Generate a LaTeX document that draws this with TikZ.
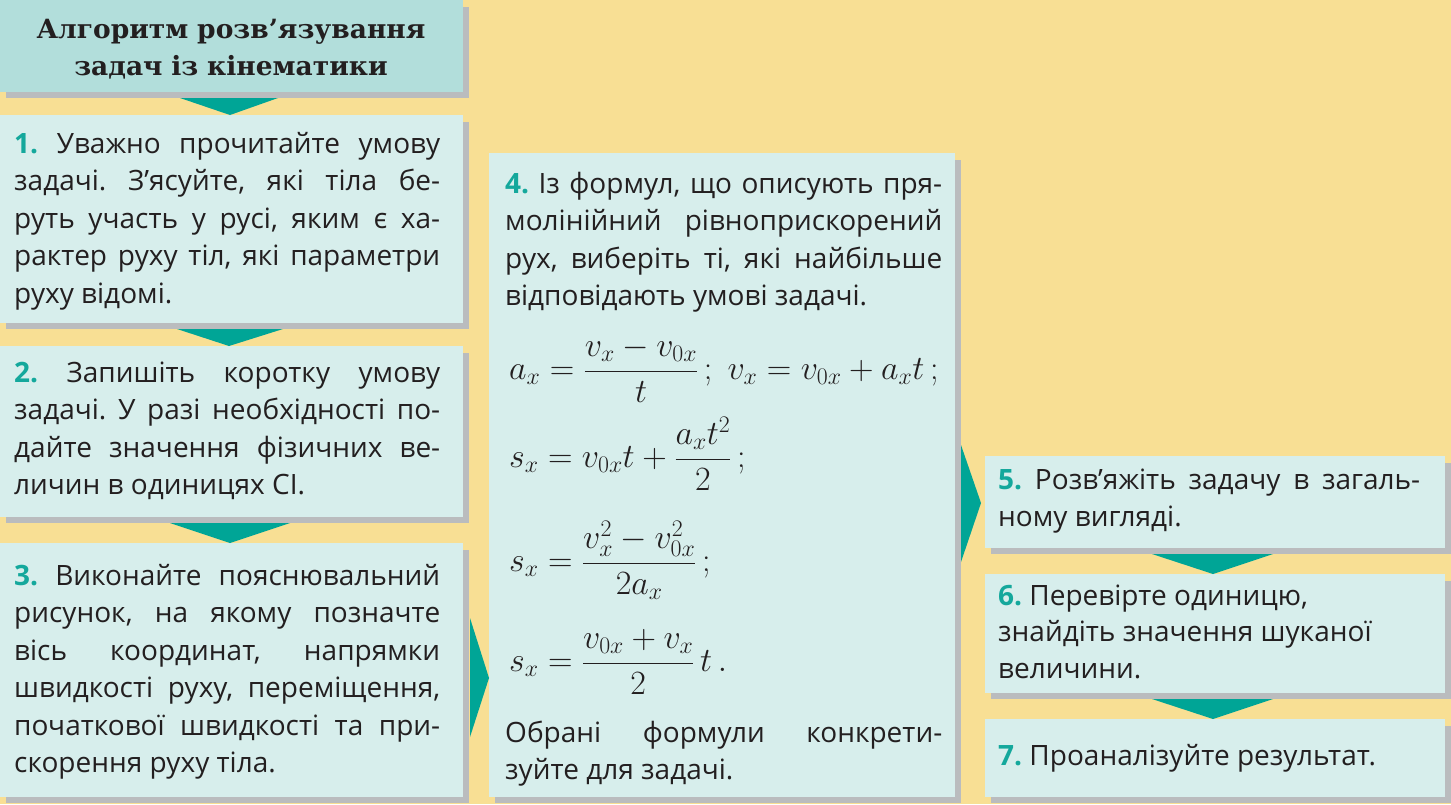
\RequirePackage{fix-cm}
\documentclass[tikz,border=0pt]{standalone}
\usepackage{fontspec}
\setmainfont{Open Sans}
\newfontfamily\titlefont{DejaVu Serif}
\frenchspacing
\definecolor{bgc}{HTML}{F8DF94}
\definecolor{boxc}{HTML}{D7EEEC}
\definecolor{titlec}{HTML}{B2DEDB}
\definecolor{shadec}{HTML}{BABCBE}
\definecolor{tealc}{HTML}{00A596}
\definecolor{numc}{HTML}{14A89C}
\definecolor{inkc}{HTML}{231F20}
\newcommand\nm[1]{\textbf{\textcolor{numc}{#1}}}
\newcommand\fl[2]{\makebox[#1pt][s]{\spaceskip=0pt\xspaceskip=0pt #2}}
\newcommand\nl[1]{\spaceskip=0pt\xspaceskip=0pt #1}
\tikzset{
  shadowfill/.style={fill=shadec},
  boxfill/.style={fill=boxc},
  arrowfill/.style={fill=tealc},
  bodytext/.style={anchor=base west, inner sep=0pt, text width=#1pt, align=left,
    text=inkc, font=\fontsize{28}{37.5}\selectfont},
  mathtext/.style={anchor=base west, inner sep=0pt, text=inkc, font=\fontsize{34}{38}\selectfont},
}
\begin{document}
\begin{tikzpicture}[x=1pt,y=-1pt]
\useasboundingbox (0,0) rectangle (1451,804);
\fill[bgc] (0,0) rectangle (1451,804);
% shadows
\foreach \xa/\ya/\xb/\yb in {0/0/463/92, 0/115/463/323, 0/346/463/517, 0/543/463/797,
  489/153/955/797, 985/456/1445/548, 985/574/1445/693, 985/719/1445/797}
  {\fill[shadowfill] (\xa+6,\ya+7) rectangle (\xb+6,\yb+6);}
% boxes
\fill[fill=titlec] (0,0) rectangle (463,92);
\foreach \xa/\ya/\xb/\yb in {0/115/463/323, 0/346/463/517, 0/543/463/797,
  489/153/955/797, 985/456/1445/548, 985/574/1445/693, 985/719/1445/797}
  {\fill[boxfill] (\xa,\ya) rectangle (\xb,\yb);}
% down triangles
\fill[arrowfill] (180,98) -- (278,98) -- (230,115) -- cycle;
\fill[arrowfill] (177,329) -- (283,329) -- (229,346) -- cycle;
\fill[arrowfill] (170,523) -- (290,523) -- (230,543) -- cycle;
\fill[arrowfill] (1152,554) -- (1273,554) -- (1213,574) -- cycle;
\fill[arrowfill] (1152,699) -- (1273,699) -- (1213,719) -- cycle;
% right triangles
\fill[arrowfill] (470,618) -- (470,737) -- (489,678) -- cycle;
\fill[arrowfill] (961,445) -- (961,562) -- (981,503) -- cycle;
% title
\node[anchor=base, inner sep=0pt, text width=460pt, align=center, text=inkc,
  font=\titlefont\bfseries\fontsize{26.5}{37}\selectfont] (title) at (231,38)
  {Алгоритм розв’язування\\задач із кінематики};
% step 1
\node[bodytext=426] (s1) at (14,153) {%
\fl{426}{\nm{1.} Уважно прочитайте умову}\\
\fl{426}{задачі. З’ясуйте, які тіла бе-}\\
\fl{426}{руть участь у русі, яким є ха-}\\
\fl{426}{рактер руху тіл, які параметри}\\
\nl{руху відомі.}};
% step 2
\node[bodytext=426] (s2) at (14,382) {%
\fl{426}{\nm{2.} Запишіть коротку умову}\\
\fl{426}{задачі. У разі необхідності по-}\\
\fl{426}{дайте значення фізичних ве-}\\
\nl{личин в одиницях СІ.}};
% step 3
\node[bodytext=426] (s3) at (14,585) {%
\fl{426}{\nm{3.} Виконайте пояснювальний}\\
\fl{426}{рисунок, на якому позначте}\\
\fl{426}{вісь координат, напрямки}\\
\fl{426}{швидкості руху, переміщення,}\\
\fl{426}{початкової швидкості та при-}\\
\nl{скорення руху тіла.}};
% step 4
\node[bodytext=437] (s4) at (505,193) {%
\fl{437}{\nm{4.} Із формул, що описують пря-}\\
\fl{437}{молінійний рівноприскорений}\\
\fl{437}{рух, виберіть ті, які найбільше}\\
\nl{відповідають умові задачі.}};
\node[mathtext] (f1) at (509,379.5) {$\displaystyle a_x=\frac{v_x-v_{0x}}{t}\,;\; v_x=v_{0x}+a_x t\,;$};
\node[mathtext] (f2) at (509,467.5) {$\displaystyle s_x=v_{0x}t+\frac{a_x t^2}{2}\,;$};
\node[mathtext] (f3) at (509,571.5) {$\displaystyle s_x=\frac{v_x^2-v_{0x}^2}{2a_x}\,;$};
\node[mathtext] (f4) at (509,671.5) {$\displaystyle s_x=\frac{v_{0x}+v_x}{2}\,t\,.$};
\node[bodytext=437] (s4b) at (505,742) {%
\fl{437}{Обрані формули конкрети-}\\
\nl{зуйте для задачі.}};
% step 5
\node[bodytext=422] (s5) at (998,489) {%
\fl{422}{\nm{5.} Розв’яжіть задачу в загаль-}\\
\nl{ному вигляді.}};
% step 6
\node[bodytext=430, font=\fontsize{28}{36.5}\selectfont] (s6) at (998,605) {%
\nl{\nm{6.} Перевірте одиницю,}\\
\nl{знайдіть значення шуканої}\\
\nl{величини.}};
% step 7
\node[bodytext=430] (s7) at (998,765) {\nl{\nm{7.} Проаналізуйте результат.}};
\end{tikzpicture}
\end{document}
